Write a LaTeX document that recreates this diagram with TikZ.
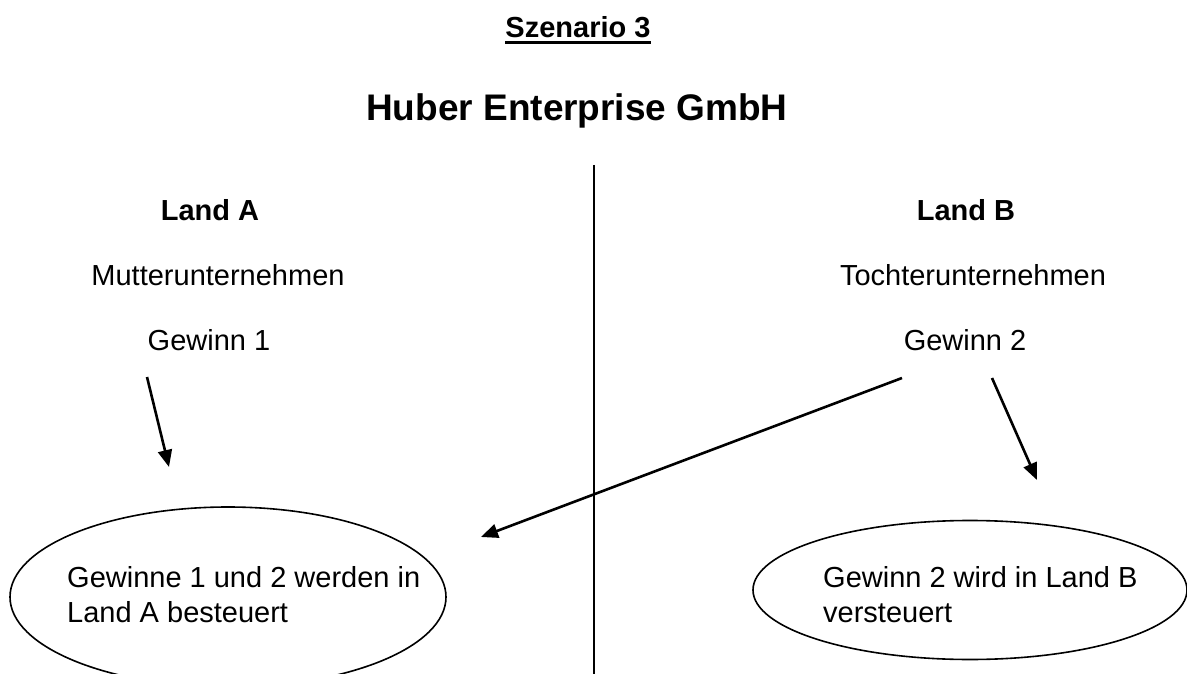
\documentclass[tikz,border=0pt]{standalone}
\usepackage{fontspec}
\setmainfont{Liberation Sans}
\usetikzlibrary{arrows.meta,shapes.geometric}
\newcommand\myul[1]{\setbox0\hbox{#1}\rlap{\rule[-6pt]{\wd0}{2.6pt}}\box0}
\tikzset{
  body/.style={font=\fontsize{29}{35}\selectfont, inner sep=0pt, anchor=base},
  head/.style={font=\fontsize{29}{35}\selectfont\bfseries, inner sep=0pt, anchor=base},
  oval/.style={draw, ellipse, line width=1.6pt, inner sep=0pt},
  arr/.style={line width=2.6pt, -{Triangle[length=17pt,width=14pt]}},
}
\begin{document}
\begin{tikzpicture}[x=1pt,y=-1pt]
\useasboundingbox (0,0) rectangle (1187,674);
\begin{scope}
\clip (0,0) rectangle (1187,674);
\node[head] (sz) at (578,38) {\myul{Szenario 3}};
\node[head, font=\fontsize{37}{44}\selectfont\bfseries] (title) at (577,121) {Huber Enterprise GmbH};
\coordinate (vtop) at (594,165);
\coordinate (vbot) at (594,674);
\draw[line width=1.6pt] (vtop) -- (vbot);
\node[head] (la) at (210,220) {Land A};
\node[body] (mu) at (218,285) {Mutterunternehmen};
\node[body] (g1) at (209,350) {Gewinn 1};
\node[head] (lb) at (966,220) {Land B};
\node[body] (to) at (973,285) {Tochterunternehmen};
\node[body] (g2) at (965,350) {Gewinn 2};
\node[oval, minimum width=436pt, minimum height=180pt] (ea) at (228,597) {};
\node[oval, minimum width=434pt, minimum height=139pt] (eb) at (970,590) {};
\node[body, anchor=base west] (ta1) at (67,587) {Gewinne 1 und 2 werden in};
\node[body, anchor=base west] (ta2) at (67,622) {Land A besteuert};
\node[body, anchor=base west] (tb1) at (823,587) {Gewinn 2 wird in Land B};
\node[body, anchor=base west] (tb2) at (823,622) {versteuert};
\coordinate (a1s) at (147,377);
\coordinate (a1e) at (169,467);
\coordinate (a2s) at (902,378);
\coordinate (a2e) at (481,537);
\coordinate (a3s) at (992,378);
\coordinate (a3e) at (1037,480);
\draw[arr] (a1s) -- (a1e);
\draw[arr] (a2s) -- (a2e);
\draw[arr] (a3s) -- (a3e);
\end{scope}
\end{tikzpicture}
\end{document}
